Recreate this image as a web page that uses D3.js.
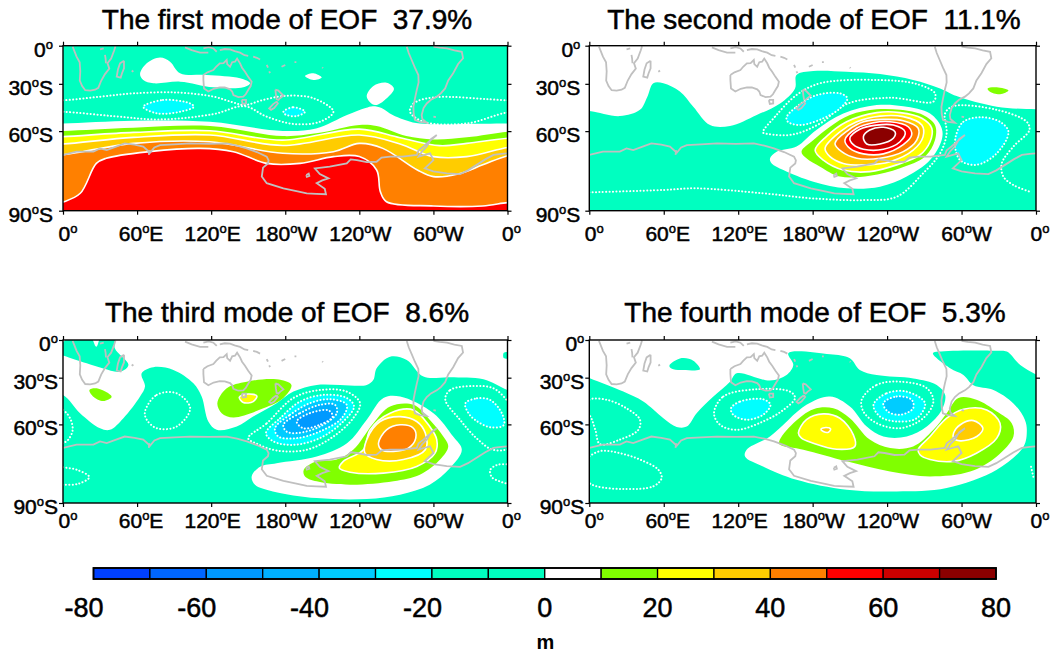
<!DOCTYPE html>
<html lang="en">
<head>
<meta charset="UTF-8" />
<title>EOF modes</title>
<script src="https://d3js.org/d3.v7.min.js"></script>
<style>
body { margin: 0; background: #fff; }
text { font-family: "Liberation Sans", Arial, sans-serif; fill: #000; white-space: pre; }
</style>
</head>
<body>
<script>
var titles = ["The first mode of EOF  37.9%", "The second mode of EOF  11.1%", "The third mode of EOF  8.6%", "The fourth mode of EOF  5.3%"];
var lonTicks = [0, 60, 120, 180, 240, 300, 360];
var lonLabels = [["0", ""], ["60", "E"], ["120", "E"], ["180", "W"], ["120", "W"], ["60", "W"], ["0", ""]];
var latTicks = [0, 30, 60, 90];
var latLabels = [["0", ""], ["30", "S"], ["60", "S"], ["90", "S"]];
// the map is stretched towards the pole, rings are stored in the linear 0-90 map units
var latToMap = [0, 20.8, 46.6, 90];
var levels = [-70, -60, -50, -40, -30, -20, -10, 0, 10, 20, 30, 40, 50, 60, 70];
var levelColors = ["#0040ff", "#0066ff", "#0099ff", "#00b0ff", "#00ccff", "#00ffff", "#00ffc0", "#00ffc0", "#ffffff", "#80ff00", "#ffff00", "#ffcc00", "#ff8000", "#ff0000", "#cc0000", "#8b0000"];
var barTicks = [-80, -60, -40, -20, 0, 20, 40, 60, 80];
var barEdges = [-80, -70, -60, -50, -40, -30, -20, -10, 0, 10, 20, 30, 40, 50, 60, 70, 80];

// rings are [lon east, map y], v is a value inside the band
var mode1 = [
	{v: 5, ring: [[-20,42.5],[0,42.4],[57,40.9],[119,41.5],[178,46.5],[205,45.1],[230,37.8],[245,34],[251,33],[258,34],[267,37.8],[286,42.2],[313,42.7],[360,42.5],[380,42.5],[380,100],[-20,100]]},
	{v: 15, ring: [[-20,47],[0,46.5],[57,44.7],[119,43.8],[178,49.3],[205,47.8],[240,43.2],[254,43.8],[278,49.3],[300,51.1],[327,50],[360,46.9],[380,46.5],[380,100],[-20,100]]},
	{v: 25, ring: [[-20,50],[0,49.6],[57,47.3],[119,46.4],[178,51.5],[240,45.5],[273,50.2],[305,54.5],[327,53.3],[360,50.5],[380,50],[380,100],[-20,100]]},
	{v: 35, ring: [[-20,54],[0,53.6],[57,50],[119,48.7],[178,54.4],[240,48.7],[273,53.6],[300,60.5],[327,60.5],[360,55.5],[380,54],[380,100],[-20,100]]},
	{v: 45, ring: [[-20,61],[0,59.5],[16,57.8],[57,53.3],[119,52.4],[178,58.7],[219,57.8],[240,53.3],[259,56],[287,67.8],[300,71.4],[320,70],[340,65],[360,60],[380,58],[380,100],[-20,100]]},
	{v: 55, ring: [[-10,87],[0,85.3],[14,80.5],[27,64.2],[35,61.4],[70,57.8],[111,56],[138,57.8],[165,64.2],[192,64.2],[219,60.5],[240,60.5],[254,67.8],[257,79.6],[262,85.1],[300,87.4],[340,87.4],[360,85.6],[370,85.5],[370,100],[-10,100]]},
	{v: 5, ring: [[62.4,15.5],[67.8,9.6],[78.6,6.4],[86.7,8.7],[94.8,15],[116.4,16],[143.4,17.8],[151.5,20.5],[146,22.7],[121.8,22.7],[94.8,19.6],[73.2,20.5],[65,18.7]]},
	{v: 5, ring: [[196,16.5],[202.8,15],[209.5,17.3],[202.8,18.7]]},
	{v: 5, ring: [[246,27.8],[251.4,22],[262,20.2],[268,23.3],[263.5,27.8],[252.7,32.4]]},
	{v: -15, ring: [[-20,30],[0,29.8],[30,27.8],[57,26],[92,25.5],[122,27.8],[138,31],[147,32.4],[162,29.6],[181,27.3],[203,28.7],[219,36],[208,41.5],[187,42.7],[165,38.7],[147,33],[122,37.3],[78.6,40.2],[40.8,38.4],[0,36],[-20,36]]},
	{v: -15, ring: [[281,36],[284,31.5],[300,28.2],[360,29.8],[380,30],[380,36],[360,36.4],[327,42.4],[292,41.5]]},
	{v: -25, ring: [[65,33.3],[81,29.6],[103,31.5],[106,33.3],[95,36],[76,36.9]]},
	{v: -25, ring: [[178.5,36],[186.6,33.6],[196,36],[189,38.4],[180,37.5]]}
];

var mode2 = [
	{v: -5, ring: [[-20,35],[0,35.6],[24.7,38.4],[40.8,35],[46.8,27.8],[51.6,20.5],[59.7,20.5],[73,25],[83.8,33.3],[97.3,43.3],[113.4,43.8],[134.9,37.8],[153.7,31.5],[165.8,23.3],[167,16],[180.6,13.8],[207.4,14.2],[234.3,15.5],[261,18.7],[282.7,23.3],[296,27.5],[328.4,33.3],[360,34.7],[380,35],[380,100],[-20,100]]},
	{v: 5, ring: [[145.6,61.5],[151,57.8],[167,55],[183,46],[204.7,37],[231.6,32.4],[253,33],[274.6,37],[284,45],[284,51.5],[274.6,62.4],[255.8,71.4],[234.3,76.9],[207.4,77.8],[180.6,74.2],[156.4,67.8],[147,64.2]]},
	{v: 15, ring: [[171,57.8],[180.6,51.5],[194,44.2],[210,37.8],[231.6,34.7],[250.4,35],[269,37.8],[278.6,43.3],[278.6,51.5],[270.6,60.5],[250.4,66.9],[226,71],[202,71.4],[186,66],[175,61.4]]},
	{v: 25, ring: [[182,57],[191,49.6],[207.4,41.5],[231.6,36.5],[250.4,36.5],[268,39.6],[276,45],[274.6,52.4],[266.5,59.6],[247.7,65],[226,68.7],[204.7,67.8],[188.6,62.4]]},
	{v: 35, ring: [[190,56],[202,47],[215.5,41.5],[234.3,38.4],[253,38.7],[268,43.3],[269,49.6],[261,57],[242.4,63.3],[223.6,65],[204.7,64.2],[194,60.5]]},
	{v: 45, ring: [[198,53.3],[208.8,46],[221,41.5],[237,40.2],[253,40.9],[265,45],[263.9,51.5],[253,57.8],[234.3,61.4],[215.5,61.4],[203.4,57.8]]},
	{v: 55, ring: [[206,51.5],[215.5,45],[229,42],[242.4,41.5],[257,44.2],[259.8,48.7],[253,54],[237,59],[220.9,59],[210,56]]},
	{v: 65, ring: [[210,50.5],[218,45.6],[231.6,43.3],[245,43.3],[254.5,47],[250.4,52.4],[237,56.5],[220.9,56.5],[212.8,54]]},
	{v: 75, ring: [[220.9,49.6],[226,46],[237,44.5],[246.4,47],[245,50.5],[234.3,53.6],[223.6,53.6]]},
	{v: -15, ring: [[140,47.3],[149.7,38.7],[167,26.9],[186,20.5],[231.6,18.7],[263.9,20.9],[278.6,26],[277.3,30.5],[242.4,28.4],[207.4,31.8],[186,42.4],[164.4,48.4],[144.3,48.2]]},
	{v: -15, open: true, ring: [[0,80],[59.7,78.7],[86.5,77.8],[140,80.5],[180.6,83.3],[220.9,84.2],[247.7,82.4],[269,69.6],[282.7,58.7],[288,47.8],[286.7,37],[293.4,33],[328.4,35],[352.5,41.5],[354.7,46],[341.8,55],[332.4,64.2],[333.7,71.4],[341.8,76],[356.6,80]]},
	{v: -25, ring: [[159,39],[167,33.3],[183,27],[202,26],[208,28.7],[202,34.2],[188.6,39.6],[170,43.3],[160,41.5]]},
	{v: -25, ring: [[296,47.8],[301.4,41.5],[315,39],[331,41.5],[337.8,47],[328.4,58.7],[312,65],[298.8,62.4],[294.8,55]]},
	{v: 15, ring: [[321,23.3],[328.4,22.7],[337.8,24.5],[331,26.5],[322.6,25]]}
];

var mode3 = [
	{v: -5, ring: [[-20,28],[0,30.3],[13.8,40.4],[30,48.7],[38,49.6],[48.9,43.2],[62.4,31.2],[66.4,25.7],[63.7,18.4],[73.2,15],[89.4,16.5],[105.6,23.9],[112.3,31.2],[117.7,45],[124.5,49.6],[140.7,47.8],[154,42.3],[173,34.9],[186.6,28.5],[205.5,24.8],[224.4,24.8],[246,24.8],[251.4,22],[254,15.6],[264.9,9.2],[278.4,11],[291.9,20.2],[313.5,20.6],[340.5,21.7],[360,27.6],[380,32],[380,100],[-20,100]]},
	{v: -5, ring: [[-5,7],[8,-3],[22,-2],[27,3.7],[31,-2],[42,-3],[42,4.6],[53,13.8],[46.2,17.5],[32.7,15.7],[19.2,12.9],[0.8,8.7]]},
	{v: -5, ring: [[357,7],[362,7],[362,10],[357,10]]},
	{v: 5, ring: [[160,69.8],[173,68],[205.5,64.3],[230,57],[246,44],[259.5,32],[273,31.2],[300,40.4],[316,53.3],[323,60.6],[313.5,70.7],[297,79.9],[273,85.4],[246,87.8],[205.5,87.3],[170,83.6],[155.5,79.9],[152.8,75.3]]},
	{v: 15, ring: [[195,71.6],[205.5,67],[221.7,66],[235,60.6],[251.4,45.9],[264.9,36.7],[283.8,35.8],[297,44],[308,53.3],[312,58.8],[305.4,66],[289,74.4],[267.6,78],[232.5,79.9],[205.5,78],[196,75.3]]},
	{v: 25, ring: [[223.8,70.7],[227,67],[243.3,60.6],[248.7,49.6],[264.9,40.4],[283.8,38.6],[297,47.8],[302.7,55],[301.3,62.5],[286.5,69.8],[259.5,73.5],[232.5,73]]},
	{v: 35, ring: [[244.6,62.5],[246,55],[256.8,45],[273,42.3],[286.5,45],[293.4,51.4],[293.4,60.6],[275.7,66],[254,66]]},
	{v: 45, ring: [[255.5,57],[262,49.6],[273,46.8],[283.8,48.7],[285.7,54.2],[279.7,59.7],[267.6,61.5],[258,60.6]]},
	{v: 15, ring: [[125,34.9],[132.6,26.6],[148.8,23],[173,21.7],[185,24.8],[178.5,32],[162.3,37.7],[138,42.8],[128.5,40.4]]},
	{v: 25, ring: [[142.8,31.6],[150,29.8],[157,30.9],[154,34],[146,34.5]]},
	{v: 15, ring: [[21.4,27.6],[27.3,26.7],[39.4,31.3],[32.7,33.7],[24.6,31.3]]},
	{v: -15, ring: [[150,54.2],[165,46],[186.6,32],[208,27.6],[229.8,28.5],[240.6,34.9],[235,43.2],[219,53.3],[197.4,60.6],[173,61],[157,57.3]]},
	{v: -25, ring: [[164.4,51.4],[175.8,43.2],[192,34],[210.9,30.3],[229.8,32],[235.7,36.7],[227,45],[208,54.2],[186.6,57.9],[170.4,56]]},
	{v: -35, ring: [[171.7,48.7],[183.9,41.3],[200,34.9],[216.3,32.7],[229.8,35.8],[225.7,43.2],[208,50.5],[189.3,54.2],[174.4,53.3]]},
	{v: -45, ring: [[178.5,46.8],[192,40.4],[208,35.8],[220.3,35.8],[221.7,40.4],[208,47.8],[189.3,51.4],[181,50.5]]},
	{v: -55, ring: [[189.3,45],[200,40.4],[215.2,38.9],[218.4,42.3],[208,46.8],[194.6,48.7]]},
	{v: -15, ring: [[66.4,39.5],[75.9,30.3],[92,29.4],[103,37.7],[92,47.8],[75.9,48.7],[67.8,44]]},
	{v: -15, ring: [[-10,36],[0,38.6],[5.7,43.2],[7.8,49.6],[4.3,55],[0,57],[-10,60]]},
	{v: -15, ring: [[-10,68],[0,70.2],[11,71.6],[21.3,75.7],[12.4,79.4],[0,80],[-10,80]]},
	{v: -15, ring: [[309.6,32.8],[313.6,27.6],[332.5,25.4],[348.7,26.7],[362,35],[375,45],[363.6,59],[348.7,60.7],[335,54.3],[321.7,44.2]]},
	{v: -25, ring: [[325.8,35],[335.3,32.2],[346,33.1],[355.5,40.5],[356.9,47],[346,48.2],[333.9,44.2],[328.5,40.5]]},
	{v: -15, ring: [[370,68],[362,68.5],[351.5,69],[346,71.8],[347.4,75.8],[354.2,78.2],[363.6,80],[370,81]]}
];

var mode4 = [
	{v: -5, ring: [[-20,15],[0,21],[27.4,28.5],[43.5,34],[59.7,43.2],[70.4,48],[78.5,47.8],[86.5,40.4],[100,31.2],[113.4,23],[118.8,18.4],[145.6,22.4],[159,19.3],[164.4,13.8],[160.4,7.3],[194,7.9],[210,10.1],[218,16.5],[231.6,19.3],[261.2,21.2],[280,24.8],[286.8,30.4],[284,38.7],[272,47.8],[255.8,53.3],[237,53.3],[223.6,47.8],[210,36.7],[194,31.2],[175,35.8],[145.6,53.3],[126.8,60.6],[125.5,64.3],[140,69.8],[167,77.2],[207.4,82.7],[247.7,83.6],[288,81.7],[328.4,71.6],[350,58.8],[352.6,50],[351,44],[341.8,35],[325.7,27.6],[309.6,25],[301.5,19.3],[290.8,15.6],[276.9,7.4],[281.4,6.4],[328.5,5.9],[336.5,6.4],[347.3,13.8],[363.4,20.2],[380,25],[380,100],[-20,100]]},
	{v: -5, ring: [[64.5,14.3],[74.4,10],[83.8,11.4],[89.2,16.2],[75.8,16.5],[67.7,16.2]]},
	{v: 15, ring: [[153,56],[164.4,46],[180.6,38.2],[196.7,37.7],[210,43.2],[226,55],[242.4,59.7],[261,58.8],[277.3,49.6],[288,40.4],[297.5,32],[312,33],[328.4,39.5],[340.4,45.9],[341.8,53.3],[328.4,64.3],[306.9,72.6],[274.6,75.3],[242.4,72.6],[207.4,67],[172.5,60.6],[153.7,57.9]]},
	{v: 25, ring: [[168.5,51.4],[175,44],[188.6,40.8],[202,43.2],[212.8,52.4],[214,58.8],[199.4,60.3],[180.6,57],[171,54.2]]},
	{v: 35, ring: [[186.7,49.2],[190.8,48.3],[194.5,49.2],[192.7,50.9],[188.6,50.5]]},
	{v: 25, ring: [[265,60.6],[274.6,53.3],[288,43.2],[301.5,38.2],[320.3,38.6],[331,45.9],[328.4,54.2],[312,62.5],[293.6,67],[274.6,66],[266.5,63.4]]},
	{v: 35, ring: [[293.6,51.4],[299,46.8],[309.6,44.5],[317.2,48.7],[312.3,53.3],[299,55.7],[293.6,54.2]]},
	{v: -15, ring: [[-3,38],[0,33],[14,33],[30,37.7],[40.8,44],[39.5,49.6],[24.7,55],[8.6,57.5],[5,50],[1.5,43]]},
	{v: -15, ring: [[-10,72],[0,64.3],[10,61.2],[24.7,62.5],[40.8,66],[55.6,71.6],[58.3,76.2],[51.6,80.8],[27.4,82.3],[6,80.8],[0,79]]},
	{v: -15, open: true, ring: [[356,70],[358,76]]},
	{v: -15, ring: [[100.5,40.4],[108,31.2],[134.9,27.2],[161.8,28.5],[165.8,32],[156.4,38.6],[140,45],[118.8,49.6],[105.3,46.8]]},
	{v: -25, ring: [[114.2,37.7],[121.5,34],[140,32.7],[146,35.8],[140,41.3],[126.8,44],[116,41.3]]},
	{v: -15, ring: [[219.5,33],[231.6,24.8],[250.4,23],[272,26.6],[277.3,34],[269,43.2],[250.4,48.7],[231.6,45.9],[220.9,39.5]]},
	{v: -25, ring: [[229,35.8],[239.7,29.4],[255.8,28.5],[270.6,34.9],[263.9,43.2],[247.7,45],[234.3,42.3]]},
	{v: -35, ring: [[237,34.9],[247.7,31.2],[259.8,33],[261,37.7],[250.4,41.3],[240.6,39.5]]}
];

var modes = [mode1, mode2, mode3, mode4];
var baseValues = [-5, 5, 5, 5];

var coasts = [
	[[7.8,0.5],[11,6],[13.5,9],[14,14],[13.6,19],[15.5,22],[18,24.3],[22,24.5],[26,24],[28.6,23],[31,19],[34,15.5],[37.5,12.5],[36,9.5],[39,7],[41.5,2.5],[42.5,0.3]],
	[[49.4,8.2],[46.2,9.6],[44.5,13],[43.5,16.9],[46.7,17.4],[47.8,15],[49.4,12.4],[49.4,8.2]],
	[[113.7,16],[117,14.5],[121.8,13.3],[124,11.5],[127,9.6],[130,9.5],[132.6,7.8],[133,10],[135.3,11.5],[137,9],[139.3,8.7],[141,7],[143.4,9.6],[145,12],[147.4,14.2],[150,17],[152.8,19.6],[152,22],[150,24.2],[148,26.5],[146,27.8],[142,28],[138,26.9],[137,25],[135.3,23.8],[131,22.8],[127,22.7],[122,23.5],[117.7,25],[114.2,23.3],[113.7,18.7],[113.7,16]],
	[[144.7,29.6],[148.2,29.6],[148.2,31.5],[145.5,31.8],[144.7,29.6]],
	[[172,24],[174.4,24.5],[178.5,27.3],[176,28.5],[174.4,29.6],[173,29.2],[172.5,27],[172,24]],
	[[173,30.5],[170,32],[167,34.2],[168.5,35],[171,34],[174,31.5],[173,30.5]],
	[[98.8,0.9],[104.2,2.4],[111,3.8],[117.7,3.8]],
	[[113.7,1.5],[118,0.8],[121.8,1.5],[124.5,3.3]],
	[[127,2.4],[131,1.8],[135.3,2],[139,3],[143.4,3.8],[147,5.2],[150,5.6]],
	[[154,6],[157,6.6],[159.6,7.5]],
	[[165,10.5],[166,12]],
	[[167,14],[167.7,15]],
	[[177,11.5],[180,10.5]],
	[[187.5,9],[189,9]],
	[[55.6,14.2],[57,13.6]],
	[[30,2],[33,1.5]],
	[[34,5],[34.5,7],[34.8,9.6]],
	[[210,11.8],[210.5,12.2]],
	[[278.4,0.5],[280,4],[282.4,7.8],[285,12],[287.8,16],[288,20],[286.5,24.2],[285,29],[283.8,33.3],[284,37],[285,40.5],[289,41.5],[294.6,42],[291,40],[290.5,37.8],[292,34],[294.6,31.5],[298,29.5],[302.7,27.8],[306,26],[309.5,23.3],[312,19],[316,15],[320,10],[324,6.9],[323,3.3],[317,2.5],[311,1.5],[305,1],[300,0.5]],
	[[300,38.7],[302,39]],
	[[70,57],[69.5,59.5]],
	[[0,59.6],[11,57.8],[24.6,57.8],[30,56],[35.4,56.9],[43,55],[50,53.3],[58,54],[65,55],[70.5,58.4],[74,55.5],[78.6,54.2],[90,53.8],[102.9,53.3],[118,53.5],[132.6,53.3],[141,54.5],[148.8,56],[157,58],[165,60.5],[166.5,62.5],[166,64.2],[162,66.5],[161,71.4],[165,75],[178.5,77.8],[190,79.5],[197.4,80.5],[205,80.8],[213,81],[212,78],[205.5,75],[210,73.5],[215,72.4],[208,70],[204,66.9],[216,66],[229.8,64.2],[233,62],[238,62.4],[246,63.5],[254,63.3],[258,61],[265,60.5],[275,60.5],[286.5,59.6],[288,57],[291.9,55],[296,52.5],[302.7,48.7],[298,51],[294.6,55],[291,57.5],[288,60.5],[293,59.5],[297.3,58.7],[300,62.4],[296,65],[293,66.9],[300,68.5],[310.8,69.6],[321.6,70],[328,68],[335,65],[342,62],[348.6,59.6],[355,59],[360,58.7]],
	[[197,70.5],[199,69.8],[199.5,71],[197.5,71.5],[197,70.5]]
];

var panels = [
	{x0: 63, x1: 507.5, y0: 45.7, y1: 210.7, gap: 10, xDrop: 30, titleX: 287, titleY: 28.5},
	{x0: 589.3, x1: 1036, y0: 45.7, y1: 210.7, gap: 9, xDrop: 30, titleX: 814, titleY: 28.5},
	{x0: 63, x1: 507.5, y0: 340, y1: 503, gap: 5, xDrop: 25, titleX: 287, titleY: 321.5},
	{x0: 589.3, x1: 1036, y0: 340, y1: 503, gap: 5, xDrop: 25, titleX: 815, titleY: 321.5}
];
var xLabelNudge = [5, 4, 1.5, 1, 1, 5, 4];

var color = d3.scaleThreshold().domain(levels).range(levelColors);

var svg = d3.select("body").append("svg")
	.attr("width", 1057)
	.attr("height", 653)
	.style("display", "block");

// number + small raised "o" + hemisphere letter
function degreeLabel(sel, label) {
	sel.append("tspan").text(label[0]);
	sel.append("tspan").attr("font-size", 13).attr("dy", -8).text("o");
	if (label[1]) sel.append("tspan").attr("dy", 8).text(label[1]);
}

panels.forEach(function (p, i) {
	var x = d3.scaleLinear().domain([0, 360]).range([p.x0, p.x1]);
	var y = d3.scaleLinear().domain([0, 90]).range([p.y0, p.y1]);
	var latY = d3.scaleLinear().domain(latTicks).range(latToMap.map(y));
	var g = svg.append("g");

	g.append("text")
		.attr("x", p.titleX)
		.attr("y", p.titleY)
		.attr("text-anchor", "middle")
		.attr("font-size", 28)
		.attr("stroke", "#000")
		.attr("stroke-width", 0.5)
		.text(titles[i]);

	svg.append("clipPath").attr("id", "clip" + i)
		.append("rect")
		.attr("x", p.x0).attr("y", p.y0)
		.attr("width", p.x1 - p.x0).attr("height", p.y1 - p.y0);

	var map = g.append("g").attr("clip-path", "url(#clip" + i + ")");
	map.append("rect")
		.attr("x", p.x0).attr("y", p.y0)
		.attr("width", p.x1 - p.x0).attr("height", p.y1 - p.y0)
		.attr("fill", color(baseValues[i]));

	var closed = d3.line().x(function (d) { return x(d[0]); }).y(function (d) { return y(d[1]); }).curve(d3.curveCatmullRomClosed.alpha(0.5));
	var open = d3.line().x(function (d) { return x(d[0]); }).y(function (d) { return y(d[1]); }).curve(d3.curveCatmullRom.alpha(0.5));
	var straight = d3.line().x(function (d) { return x(d[0]); }).y(function (d) { return y(d[1]); });

	map.selectAll("path.region")
		.data(modes[i])
		.enter()
		.append("path")
		.attr("class", "region")
		.attr("d", function (d) { return d.open ? open(d.ring) : closed(d.ring); })
		.attr("fill", function (d) { return d.open ? "none" : color(d.v); })
		.attr("stroke", function (d) { return (d.v >= 20 || d.v <= -10) ? "#fff" : "none"; })
		.attr("stroke-width", function (d) { return d.v < 0 ? 2 : 1.6; })
		.attr("stroke-linecap", "round")
		.attr("stroke-dasharray", function (d) { return d.v < 0 ? "0.1 3.3" : null; });

	map.selectAll("path.coast")
		.data(coasts)
		.enter()
		.append("path")
		.attr("class", "coast")
		.attr("d", straight)
		.attr("fill", "none")
		.attr("stroke", "#c0c0c0")
		.attr("stroke-width", 1.8);

	var axes = [
		{call: d3.axisTop(x).tickValues(lonTicks), at: [0, p.y0]},
		{call: d3.axisBottom(x).tickValues(lonTicks), at: [0, p.y1]},
		{call: d3.axisLeft(latY).tickValues(latTicks), at: [p.x0, 0]},
		{call: d3.axisRight(latY).tickValues(latTicks), at: [p.x1, 0]}
	];
	axes.forEach(function (a) {
		var ax = g.append("g")
			.attr("transform", "translate(" + a.at[0] + "," + a.at[1] + ")")
			.call(a.call.tickSize(4).tickSizeOuter(0).tickFormat(""));
		ax.select(".domain").remove();
		ax.selectAll("line").attr("stroke", "#000").attr("stroke-width", 1.2);
	});

	g.append("rect")
		.attr("x", p.x0).attr("y", p.y0)
		.attr("width", p.x1 - p.x0).attr("height", p.y1 - p.y0)
		.attr("fill", "none")
		.attr("stroke", "#000")
		.attr("stroke-width", 1.4);

	lonTicks.forEach(function (t, k) {
		g.append("text")
			.attr("x", x(t) + xLabelNudge[k])
			.attr("y", p.y1 + p.xDrop)
			.attr("text-anchor", "middle")
			.attr("font-size", 21)
			.attr("stroke", "#000")
			.attr("stroke-width", 0.5)
			.call(degreeLabel, lonLabels[k]);
	});
	latTicks.forEach(function (t, k) {
		g.append("text")
			.attr("x", p.x0 - p.gap)
			.attr("y", latY(t) + 11)
			.attr("text-anchor", "end")
			.attr("font-size", 21)
			.attr("stroke", "#000")
			.attr("stroke-width", 0.5)
			.call(degreeLabel, latLabels[k]);
	});
});

// colour bar
var barX = d3.scaleLinear().domain([-80, 80]).range([93.5, 996]);
var barTop = 568, barH = 11;
var bar = svg.append("g");
bar.selectAll("rect")
	.data(d3.pairs(barEdges))
	.enter()
	.append("rect")
	.attr("x", function (d) { return barX(d[0]); })
	.attr("y", barTop)
	.attr("width", function (d) { return barX(d[1]) - barX(d[0]); })
	.attr("height", barH)
	.attr("fill", function (d) { return color((d[0] + d[1]) / 2); })
	.attr("stroke", "#000")
	.attr("stroke-width", 1.3);

bar.append("rect")
	.attr("x", barX(-80)).attr("y", barTop)
	.attr("width", barX(80) - barX(-80)).attr("height", barH)
	.attr("fill", "none")
	.attr("stroke", "#000")
	.attr("stroke-width", 1.8);

barTicks.forEach(function (t) {
	bar.append("text")
		.attr("x", t < 0 ? barX(t) + 10 : barX(t))
		.attr("y", 617)
		.attr("text-anchor", t < 0 ? "end" : "middle")
		.attr("font-size", 27)
		.attr("stroke", "#000")
		.attr("stroke-width", 0.5)
		.text(t);
});

svg.append("text")
	.attr("x", 545.5)
	.attr("y", 649)
	.attr("text-anchor", "middle")
	.attr("font-size", 20)
	.attr("font-weight", "bold")
	.text("m");
</script>
</body>
</html>
